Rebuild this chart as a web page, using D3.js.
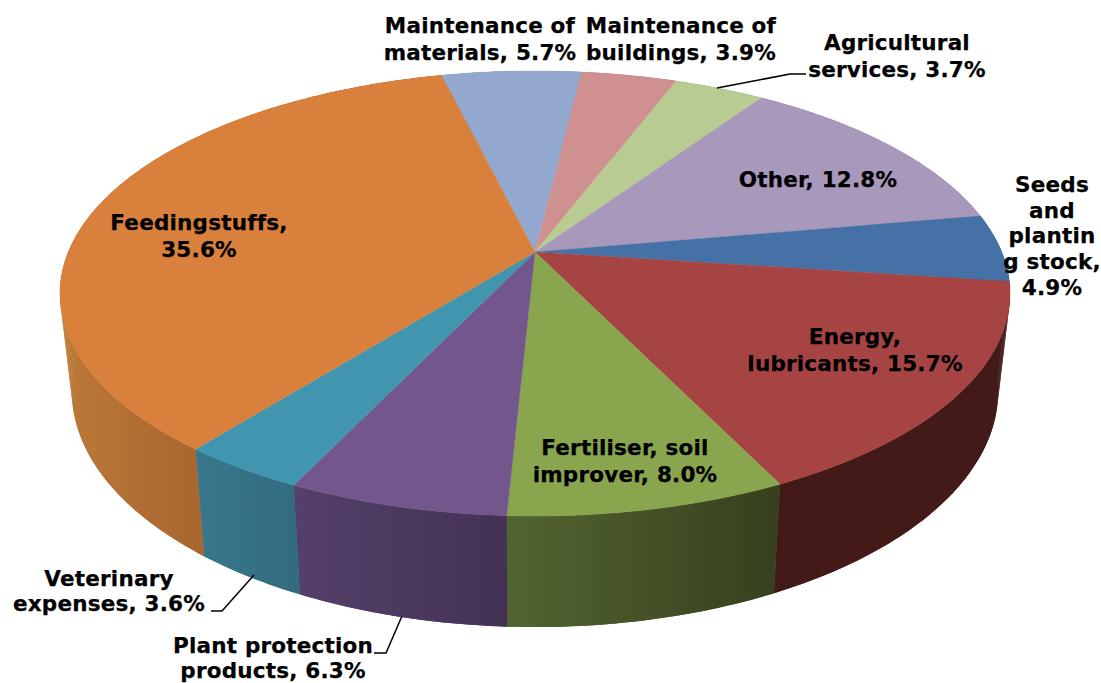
<!DOCTYPE html>
<html lang="en">
<head>
    <meta charset="UTF-8">
    <title>Input costs</title>
    <style>
        html, body { margin: 0; padding: 0; background: #fff; }
        svg { display: block; }
        text { font-family: "DejaVu Sans", sans-serif; font-weight: bold; font-size: 21.5px; letter-spacing: 0.2px; fill: #000; stroke: #000; stroke-width: 0.25px; }
    </style>
</head>
<body>
    <script src="https://d3js.org/d3.v7.min.js"></script>
    <script>
        // clockwise, starting from the slice right of Feedingstuffs
        var categories = ["Maintenance of materials", "Maintenance of buildings", "Agricultural services", "Other",
            "Seeds and planting stock", "Energy, lubricants", "Fertiliser, soil improver", "Plant protection products",
            "Veterinary expenses", "Feedingstuffs"];
        var shares = [5.7, 3.9, 3.7, 12.8, 4.9, 15.7, 8.0, 6.3, 3.6, 35.6];
        var topColors = ["#93a8cf", "#cf9190", "#b8cb93", "#a898bb", "#4571a6", "#a54442", "#89a54e", "#73568b", "#4195ae", "#d9803c"];
        var wallFrom = ["#7e90b2", "#b27c7b", "#9eae7e", "#9082a0", "#3b618e", "#431a18", "#526530", "#54406a", "#38788c", "#bc7a38"];
        var wallTo = ["#7e90b2", "#b27c7b", "#9eae7e", "#9082a0", "#3b618e", "#431a18", "#373f1d", "#433254", "#326c80", "#aa6630"];

        var labelLines = [
            ["Maintenance of", "materials, 5.7%"],
            ["Maintenance of", "buildings, 3.9%"],
            ["Agricultural", "services, 3.7%"],
            ["Other, 12.8%"],
            ["Seeds", "and", "plantin", "g stock,", "4.9%"],
            ["Energy,", "lubricants, 15.7%"],
            ["Fertiliser, soil", "improver, 8.0%"],
            ["Plant protection", "products, 6.3%"],
            ["Veterinary", "expenses, 3.6%"],
            ["Feedingstuffs,", "35.6%"]
        ];

        var width = 1101, height = 683;

        // label placement: centre x, first baseline y, line step
        var labelPos = [
            [480, 33, 27], [681, 33, 27], [897, 50, 27], [818, 187, 27], [1052, 192, 25.7],
            [855, 344, 27], [625, 455, 27], [273, 653, 25], [109, 586, 25], [199, 230, 27]
        ];
        var leaders = {
            2: [[717, 88], [790, 74], [806, 74]],
            7: [[402, 616], [386, 653], [374, 653]],
            8: [[254, 575], [222, 611], [211, 611]]
        };

        // perspective view of the disc: apex at (cx, cy), far side shrunk by k
        var cx = 535, cy = 252, A = 466.7, B = 214.8, k = 0.1865;
        var startAngle = -13.7 * Math.PI / 180;

        function rim(a) {
            var w = 1 + k * Math.cos(a);
            return [cx + A * Math.sin(a) / w, cy - B * Math.cos(a) / w];
        }
        function base(p) {
            return [cx + (p[0] - cx) * 0.975, 627 + 1.06 * (p[1] - 516)];
        }

        var pie = d3.pie().sort(null).startAngle(startAngle).endAngle(startAngle + 2 * Math.PI);
        var slices = pie(shares);
        var line = d3.line();

        function arcPoints(d) {
            var n = Math.max(2, Math.ceil((d.endAngle - d.startAngle) * 60));
            return d3.range(n + 1).map(function(i) {
                return rim(d.startAngle + (d.endAngle - d.startAngle) * i / n);
            });
        }

        var svg = d3.select("body").append("svg")
            .attr("width", width)
            .attr("height", height);
        var defs = svg.append("defs");

        slices.forEach(function(d, i) {
            var pts = arcPoints(d).filter(function(p) { return p[1] > cy; });
            var xs = pts.map(function(p) { return p[0]; });
            var g = defs.append("linearGradient")
                .attr("id", "wall" + i)
                .attr("gradientUnits", "userSpaceOnUse")
                .attr("x1", d3.min(xs) || 0)
                .attr("x2", d3.max(xs) || 1)
                .attr("y1", 0)
                .attr("y2", 0);
            g.append("stop").attr("offset", 0).attr("stop-color", wallFrom[i]);
            g.append("stop").attr("offset", 1).attr("stop-color", wallTo[i]);
        });

        // walls first, the top of the disc covers the back part
        // each wall is a strip of small quads so the silhouette at the sides stays filled
        var walls = svg.selectAll(".wall")
            .data(slices)
            .enter()
            .append("g")
            .attr("class", "wall")
            .attr("fill", function(d, i) { return "url(#wall" + i + ")"; });

        walls.selectAll("path")
            .data(function(d) {
                var pts = arcPoints(d);
                return pts.slice(1).map(function(p, j) {
                    return [pts[j], p, base(p), base(pts[j])];
                });
            })
            .enter()
            .append("path")
            .attr("d", function(q) { return line(q) + "Z"; });

        // the same strip again as an outline closes the hairlines between quads
        svg.selectAll(".wallEdge")
            .data(slices)
            .enter()
            .append("path")
            .attr("class", "wallEdge")
            .attr("d", function(d) {
                var pts = arcPoints(d);
                return line(pts.concat(pts.map(base).reverse())) + "Z";
            })
            .attr("fill", function(d, i) { return "url(#wall" + i + ")"; });

        svg.selectAll(".slice")
            .data(slices)
            .enter()
            .append("path")
            .attr("class", "slice")
            .attr("d", function(d) {
                return line([[cx, cy]].concat(arcPoints(d))) + "Z";
            })
            .attr("fill", function(d, i) { return topColors[i]; })
            .attr("stroke", function(d, i) { return topColors[i]; })
            .attr("stroke-width", 0.4);

        Object.keys(leaders).forEach(function(i) {
            svg.append("path")
                .attr("d", line(leaders[i]))
                .attr("fill", "none")
                .attr("stroke", "#000")
                .attr("stroke-width", 1.5);
        });

        var labels = svg.selectAll(".label")
            .data(labelLines)
            .enter()
            .append("text")
            .attr("class", "label")
            .attr("text-anchor", "middle")
            .attr("data-name", function(d, i) { return categories[i]; });

        labels.selectAll("tspan")
            .data(function(d, i) {
                return d.map(function(s, j) {
                    return { s: s, x: labelPos[i][0], y: labelPos[i][1] + j * labelPos[i][2] };
                });
            })
            .enter()
            .append("tspan")
            .attr("x", function(d) { return d.x; })
            .attr("y", function(d) { return d.y; })
            .text(function(d) { return d.s; });
    </script>
</body>
</html>
